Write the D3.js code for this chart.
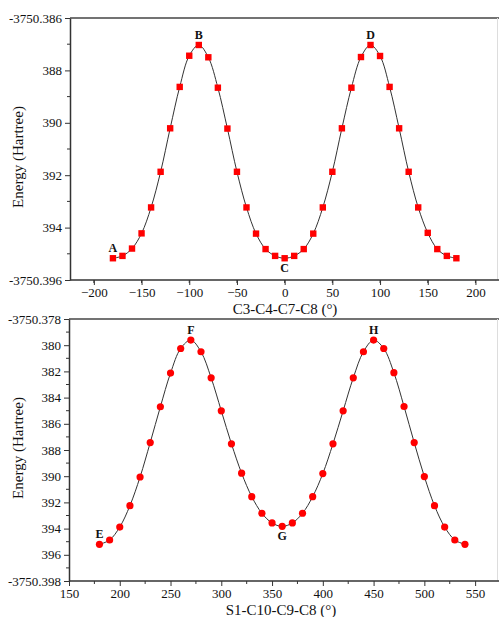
<!DOCTYPE html>
<html>
<head>
<meta charset="utf-8">
<script src="https://cdn.jsdelivr.net/npm/d3@7"></script>
<style>
  body { margin: 0; background: #fff; }
  text { font-family: "Liberation Serif", "Times New Roman", serif; fill: #111; }
</style>
</head>
<body>
<script>
// top panel: C3-C4-C7-C8 scan
const angleTop = d3.range(-180, 181, 10);
const energyTop = [
  395.17, 395.08, 394.80, 394.22, 393.23, 391.87, 390.21, 388.63, 387.44, 387.03,
  387.50, 388.66, 390.22, 391.87, 393.23, 394.23, 394.82, 395.08, 395.17, 395.08,
  394.82, 394.23, 393.23, 391.87, 390.21, 388.66, 387.49, 387.03, 387.45, 388.63,
  390.21, 391.87, 393.23, 394.20, 394.82, 395.08, 395.17
].map((v) => -3750 - v / 1000);

// bottom panel: S1-C10-C9-C8 scan
const angleBottom = d3.range(180, 541, 10);
const energyBottom = [
  395.20, 394.87, 393.88, 392.25, 390.06, 387.43, 384.70, 382.13, 380.25, 379.61,
  380.50, 382.49, 385.01, 387.53, 389.77, 391.56, 392.83, 393.57, 393.83, 393.57,
  392.83, 391.56, 389.80, 387.53, 385.01, 382.49, 380.50, 379.61, 380.25, 382.10,
  384.68, 387.43, 390.03, 392.25, 393.88, 394.87, 395.20
].map((v) => -3750 - v / 1000);

const xTicksTop = [-200, -150, -100, -50, 0, 50, 100, 150, 200];
const yTicksTop = [-3750.386, -3750.388, -3750.390, -3750.392, -3750.394, -3750.396];
const yLabelsTop = ["-3750.386", "388", "390", "392", "394", "-3750.396"];

const xTicksBottom = [150, 200, 250, 300, 350, 400, 450, 500, 550];
const yTicksBottom = [-3750.378, -3750.380, -3750.382, -3750.384, -3750.386, -3750.388,
  -3750.390, -3750.392, -3750.394, -3750.396, -3750.398];
const yLabelsBottom = ["-3750.378", "380", "382", "384", "386", "388",
  "390", "392", "394", "396", "-3750.398"];

const pointLabelsTop = [
  { name: "A", x: -180, pos: "above" },
  { name: "B", x: -90, pos: "above" },
  { name: "C", x: 0, pos: "below" },
  { name: "D", x: 90, pos: "above" }
];
const pointLabelsBottom = [
  { name: "E", x: 180, pos: "above" },
  { name: "F", x: 270, pos: "above" },
  { name: "G", x: 360, pos: "below" },
  { name: "H", x: 450, pos: "above" }
];

const w = 499;
const h = 617;
const serif = "'Liberation Serif', 'Times New Roman', serif";
const svg = d3.select("body").append("svg").attr("width", w).attr("height", h);

const drawPanel = (cfg) => {
  const xScale = d3.scaleLinear().domain(cfg.xDomain).range([cfg.left, cfg.right]);
  const yScale = d3.scaleLinear().domain(cfg.yDomain).range([cfg.bottom, cfg.top]);
  const g = svg.append("g");

  // frame: top line + faint right edge
  g.append("line")
    .attr("x1", cfg.left).attr("x2", w)
    .attr("y1", cfg.top).attr("y2", cfg.top)
    .attr("stroke", "#444").attr("stroke-width", 1.5);
  g.append("line")
    .attr("x1", 497.5).attr("x2", 497.5)
    .attr("y1", cfg.top).attr("y2", cfg.bottom)
    .attr("stroke", "#ddd").attr("stroke-width", 1);

  // x axis
  const xMinor = d3.range(cfg.xDomain[0] + 25, cfg.xDomain[1], 50);
  const xAxis = d3.axisBottom(xScale).tickValues(cfg.xTicks).tickSize(5).tickSizeOuter(0);
  const xg = g.append("g").attr("transform", "translate(0," + cfg.bottom + ")").call(xAxis)
    .attr("font-family", serif).attr("font-size", 13);
  xg.append("g").selectAll("line").data(xMinor).enter().append("line")
    .attr("x1", (d) => xScale(d)).attr("x2", (d) => xScale(d))
    .attr("y1", 0).attr("y2", 3).attr("stroke", "#333");
  xg.select(".domain").attr("stroke", "#333").attr("stroke-width", 1.5)
    .attr("d", "M" + cfg.left + ",0H" + w);
  xg.selectAll(".tick line").attr("stroke", "#333");
  xg.selectAll(".tick text").attr("y", 8).attr("fill", "#111");

  // y axis
  const yMinor = cfg.yTicks.slice(1).map((d, i) => (d + cfg.yTicks[i]) / 2);
  const yAxis = d3.axisLeft(yScale).tickValues(cfg.yTicks).tickSize(5).tickSizeOuter(0)
    .tickFormat((d, i) => cfg.yLabels[i]);
  const yg = g.append("g").attr("transform", "translate(" + cfg.left + ",0)").call(yAxis)
    .attr("font-family", serif).attr("font-size", 13);
  yg.append("g").selectAll("line").data(yMinor).enter().append("line")
    .attr("x1", 0).attr("x2", -3)
    .attr("y1", (d) => yScale(d)).attr("y2", (d) => yScale(d))
    .attr("stroke", "#333");
  yg.select(".domain").attr("stroke", "#333").attr("stroke-width", 1.5);
  yg.selectAll(".tick line").attr("stroke", "#333");
  yg.selectAll(".tick text").attr("x", -8).attr("fill", "#111");

  // curve
  const pts = cfg.xs.map((x, i) => [x, cfg.ys[i]]);
  const line = d3.line()
    .x((d) => xScale(d[0]))
    .y((d) => yScale(d[1]))
    .curve(d3.curveCatmullRom);
  g.append("path").datum(pts)
    .attr("d", line)
    .attr("fill", "none")
    .attr("stroke", "#333")
    .attr("stroke-width", 1);

  // markers
  if (cfg.marker === "square") {
    g.selectAll("rect.pt").data(pts).enter().append("rect")
      .attr("class", "pt")
      .attr("x", (d) => xScale(d[0]) - 3.2)
      .attr("y", (d) => yScale(d[1]) - 3.2)
      .attr("width", 6.4).attr("height", 6.4)
      .attr("fill", "#ff0000");
  } else {
    g.selectAll("circle.pt").data(pts).enter().append("circle")
      .attr("class", "pt")
      .attr("cx", (d) => xScale(d[0]))
      .attr("cy", (d) => yScale(d[1]))
      .attr("r", 3.6)
      .attr("fill", "#ff0000");
  }

  // point labels
  cfg.labels.forEach((lab) => {
    const i = cfg.xs.indexOf(lab.x);
    g.append("text")
      .attr("x", xScale(lab.x))
      .attr("y", yScale(cfg.ys[i]) + (lab.pos === "above" ? -6 : 14))
      .attr("text-anchor", "middle")
      .style("font-size", "12px")
      .style("font-weight", "bold")
      .text(lab.name);
  });

  // axis titles
  g.append("text")
    .attr("x", cfg.titleX)
    .attr("y", cfg.bottom + 34)
    .attr("text-anchor", "middle")
    .style("font-size", "15px")
    .text(cfg.xTitle);
  g.append("text")
    .attr("transform", "translate(23," + cfg.yTitleY + ") rotate(-90)")
    .attr("text-anchor", "middle")
    .style("font-size", "15px")
    .text("Energy (Hartree)");
};

drawPanel({
  xs: angleTop, ys: energyTop,
  xDomain: [-225, 225], yDomain: [-3750.396, -3750.386],
  left: 70, right: 499.3, top: 18, bottom: 280,
  xTicks: xTicksTop, yTicks: yTicksTop, yLabels: yLabelsTop,
  marker: "square", labels: pointLabelsTop,
  xTitle: "C3-C4-C7-C8 (°)", titleX: 285, yTitleY: 157
});

drawPanel({
  xs: angleBottom, ys: energyBottom,
  xDomain: [150, 575], yDomain: [-3750.398, -3750.378],
  left: 69, right: 500.5, top: 319, bottom: 581,
  xTicks: xTicksBottom, yTicks: yTicksBottom, yLabels: yLabelsBottom,
  marker: "circle", labels: pointLabelsBottom,
  xTitle: "S1-C10-C9-C8 (°)", titleX: 281, yTitleY: 448
});
</script>
</body>
</html>
